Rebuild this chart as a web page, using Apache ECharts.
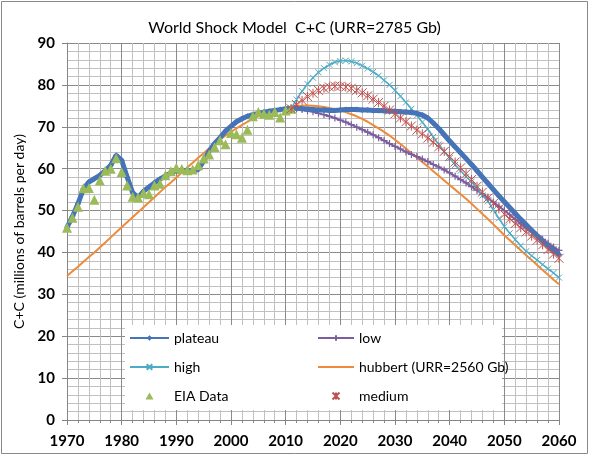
<!DOCTYPE html>
<html>
<head>
<meta charset="utf-8">
<title>World Shock Model C+C</title>
<script src="https://cdn.jsdelivr.net/npm/echarts@6/dist/echarts.min.js"></script>
<style>
	html, body { margin: 0; padding: 0; background: #fff; }
	#shock_echart { width: 589px; height: 456px; }
</style>
</head>
<body>
<div id="shock_echart"></div>
<script>
// values, one per year
var plateauStart = 1970;
var plateau = [
	46.0, 48.6, 51.6, 55.2, 56.8, 57.6, 58.4, 59.5, 60.8, 63.2,
	62.0, 58.0, 54.3, 53.1, 54.6, 55.6, 56.6, 57.5, 58.3, 59.0,
	59.5, 59.6, 59.5, 59.5, 59.8, 61.8, 64.2, 66.0, 67.4, 69.0,
	70.1, 71.2, 71.9, 72.5, 72.9, 73.2, 73.5, 73.7, 73.9, 74.1,
	74.3, 74.4, 74.4, 74.3, 74.2, 74.1, 74.0, 74.0, 73.9, 73.9,
	74.0, 74.1, 74.1, 74.1, 74.0, 74.0, 73.9, 73.9, 73.8, 73.7,
	73.7, 73.6, 73.5, 73.4, 73.2, 72.8, 72.1, 70.9, 69.6, 68.1,
	66.6, 65.2, 63.8, 62.4, 61.0, 59.5, 58.0, 56.5, 55.0, 53.5,
	52.1, 50.7, 49.3, 47.9, 46.6, 45.3, 44.0, 42.8, 41.6, 40.5,
	39.5
];

var scenarioStart = 2011;
var low = [
	74.3, 74.3, 74.1, 73.8, 73.6, 73.2, 72.9, 72.5, 72.1,
	71.6, 71.1, 70.5, 69.9, 69.3, 68.7, 68.1, 67.4, 66.7, 66.0,
	65.3, 64.7, 64.0, 63.4, 62.9, 62.3, 61.7, 61.0, 60.4, 59.7,
	59.0, 58.2, 57.4, 56.6, 55.7, 54.8, 53.9, 53.0, 52.0, 51.0,
	50.0, 49.0, 47.9, 46.8, 45.8, 44.9, 44.0, 43.1, 42.2, 41.3,
	40.5
];
var high = [
	74.4, 76.5, 78.5, 80.2, 81.7, 83.0, 84.0, 84.8, 85.4,
	85.7, 85.8, 85.6, 85.2, 84.6, 83.9, 83.1, 82.2, 81.1, 80.0,
	78.7, 77.3, 75.8, 74.3, 72.7, 71.1, 69.4, 67.6, 65.8, 64.1,
	62.5, 60.9, 59.5, 58.1, 56.9, 55.3, 53.6, 52.2, 50.2, 48.1,
	46.2, 44.6, 43.1, 41.6, 40.3, 39.2, 38.2, 37.1, 36.1, 35.1,
	34.0
];
var medium = [
	74.3, 75.3, 76.3, 77.2, 78.0, 78.7, 79.2, 79.5, 79.7,
	79.7, 79.5, 79.2, 78.7, 78.1, 77.4, 76.6, 75.8, 74.9, 74.0,
	73.1, 72.1, 71.2, 70.2, 69.2, 68.3, 67.3, 66.3, 65.2, 64.1,
	62.9, 61.6, 60.2, 58.8, 57.4, 55.8, 54.4, 53.0, 51.7, 50.4,
	49.1, 48.0, 46.9, 45.9, 44.9, 43.9, 42.9, 41.8, 40.7, 39.6,
	38.6
];

var hubbertStart = 1970;
var hubbert = [
	34.4, 35.5, 36.6, 37.8, 38.9, 40.0, 41.2, 42.4, 43.6, 44.8,
	46.0, 47.2, 48.4, 49.6, 50.8, 52.0, 53.2, 54.4, 55.6, 56.7,
	57.9, 59.1, 60.3, 61.4, 62.6, 63.7, 64.8, 65.9, 66.9, 67.9,
	68.8, 69.6, 70.4, 71.2, 71.9, 72.5, 73.0, 73.5, 73.9, 74.2,
	74.5, 74.7, 74.9, 75.0, 75.1, 75.0, 74.9, 74.7, 74.5, 74.2,
	73.9, 73.5, 73.0, 72.5, 71.9, 71.2, 70.4, 69.6, 68.8, 67.9,
	66.9, 65.9, 64.8, 63.7, 62.6, 61.6, 60.5, 59.4, 58.3, 57.2,
	56.1, 55.0, 53.9, 52.8, 51.6, 50.4, 49.2, 48.0, 46.7, 45.4,
	44.1, 42.9, 41.7, 40.5, 39.3, 38.2, 37.0, 35.8, 34.7, 33.5,
	32.4
];

var eiaStart = 1970;
var eia = [
	45.9, 48.3, 50.9, 55.3, 55.4, 52.6, 57.2, 59.5, 60.0, 62.5,
	59.2, 56.0, 53.3, 53.1, 54.2, 53.9, 56.0, 56.4, 58.4, 59.4,
	60.2, 59.9, 59.6, 59.8, 60.8, 62.4, 63.4, 65.2, 66.8, 65.8,
	68.5, 68.2, 67.4, 69.3, 72.5, 73.5, 73.1, 72.9, 73.5, 72.2,
	73.9, 74.3
];

var xTicks = [1970, 2060, 10];
var yTicks = [0, 90, 10];

var font = 'Lato, "Open Sans", sans-serif';
var shock_echart = echarts.init(document.getElementById('shock_echart'));

// pair each value with its year
function byYear(start, values) {
	var out = [];
	for (var i = 0; i < values.length; i++) {
		out.push([start + i, values[i]]);
	}
	return out;
}

var crossPath = 'path://M0,0L10,10M10,0L0,10';
var plusPath = 'path://M5,0L5,10M0,5L10,5';
var starPath = 'path://M0,0L10,10M10,0L0,10M5,0L5,10';
// legend icon: small triangle in the middle of a 39x7 box
var legendTriangle = 'path://M0,0M39,7M15.5,7L19.5,0L23.5,7Z';

function valueAxis(range) {
	return {
		type: 'value',
		min: range[0],
		max: range[1],
		interval: range[2],
		axisLine: { show: true, lineStyle: { color: '#868686', width: 1 } },
		axisTick: { show: true, length: 5, lineStyle: { color: '#868686' } },
		minorTick: { show: false, splitNumber: 5 },
		splitLine: { show: true, lineStyle: { color: '#8a8a8a', width: 1 } },
		minorSplitLine: { show: true, lineStyle: { color: '#c0c0c0', width: 1 } },
		axisLabel: {
			color: '#000',
			fontFamily: font,
			fontWeight: 'bold',
			fontSize: 15,
			formatter: function (v) { return String(v); }
		}
	};
}

var xAxis = valueAxis(xTicks);
xAxis.axisLabel.margin = 14;
xAxis.minorTick = { show: true, splitNumber: 5, length: 3, lineStyle: { color: '#868686' } };

var yAxis = valueAxis(yTicks);
yAxis.axisLabel.margin = 12;
yAxis.name = 'C+C (millions of barrels per day)';
yAxis.nameLocation = 'middle';
yAxis.nameRotate = 90;
yAxis.nameGap = 40;
yAxis.nameTextStyle = { color: '#000', fontFamily: font, fontSize: 14 };

var legendText = { color: '#000', fontFamily: font, fontSize: 14 };

option = {
	animation: false,
	backgroundColor: '#fff',
	title: {
		text: 'World Shock Model  C+C (URR=2785 Gb)',
		left: 'center',
		top: 15,
		textStyle: { color: '#000', fontFamily: font, fontSize: 16, fontWeight: 'normal' }
	},
	grid: { left: 67, right: 30, top: 43, bottom: 36 },
	xAxis: xAxis,
	yAxis: yAxis,
	graphic: [
		{ // outer chart frame
			type: 'rect',
			shape: { x: 1.5, y: 1.5, width: 586, height: 452 },
			style: { fill: 'none', stroke: '#888', lineWidth: 1 },
			z: 1
		},
		{ // legend background
			type: 'rect',
			shape: { x: 125, y: 325, width: 377, height: 85 },
			style: { fill: '#fff' },
			z: 9
		}
	],
	legend: [
		{
			orient: 'vertical',
			left: 129,
			top: 331,
			padding: 0,
			itemWidth: 39,
			itemHeight: 7,
			itemGap: 15,
			z: 10,
			textStyle: legendText,
			data: ['plateau', 'high', { name: 'EIA Data', icon: legendTriangle }]
		},
		{
			orient: 'vertical',
			left: 317,
			top: 331,
			padding: 0,
			itemWidth: 36,
			itemHeight: 7,
			itemGap: 15,
			z: 10,
			textStyle: legendText,
			data: [
				'low',
				{ name: 'hubbert (URR=2560 Gb)', itemStyle: { opacity: 0 } },
				{ name: 'medium', icon: starPath }
			]
		}
	],
	series: [
		{
			name: 'hubbert (URR=2560 Gb)',
			type: 'line',
			data: byYear(hubbertStart, hubbert),
			showSymbol: false,
			symbol: 'none',
			lineStyle: { color: '#ef8a3a', width: 2 },
			itemStyle: { color: '#ef8a3a' },
			z: 2
		},
		{
			name: 'low',
			type: 'line',
			data: byYear(scenarioStart, low),
			symbol: plusPath,
			symbolSize: 7,
			lineStyle: { color: '#7a5ea0', width: 2 },
			itemStyle: { color: '#7a5ea0', borderColor: '#7a5ea0', borderWidth: 1.2 },
			z: 3
		},
		{
			name: 'high',
			type: 'line',
			data: byYear(scenarioStart, high),
			symbol: crossPath,
			symbolSize: 6,
			lineStyle: { color: '#4bacc6', width: 1.5 },
			itemStyle: { color: '#4bacc6', borderColor: '#4bacc6', borderWidth: 1 },
			z: 3
		},
		{
			name: 'plateau',
			type: 'line',
			data: byYear(plateauStart, plateau),
			symbol: 'diamond',
			symbolSize: 6,
			lineStyle: { color: '#4674b8', width: 5 },
			itemStyle: { color: '#4674b8' },
			z: 4
		},
		{
			name: 'EIA Data',
			type: 'scatter',
			data: byYear(eiaStart, eia),
			symbol: 'triangle',
			symbolSize: 10,
			itemStyle: { color: '#9bbb59', opacity: 1 },
			z: 5
		},
		{
			name: 'medium',
			type: 'scatter',
			data: byYear(scenarioStart, medium),
			symbol: starPath,
			symbolSize: 9,
			itemStyle: { color: '#c0504d', borderColor: '#c0504d', borderWidth: 1, opacity: 1 },
			z: 6
		}
	]
};

shock_echart.setOption(option);
</script>
</body>
</html>
